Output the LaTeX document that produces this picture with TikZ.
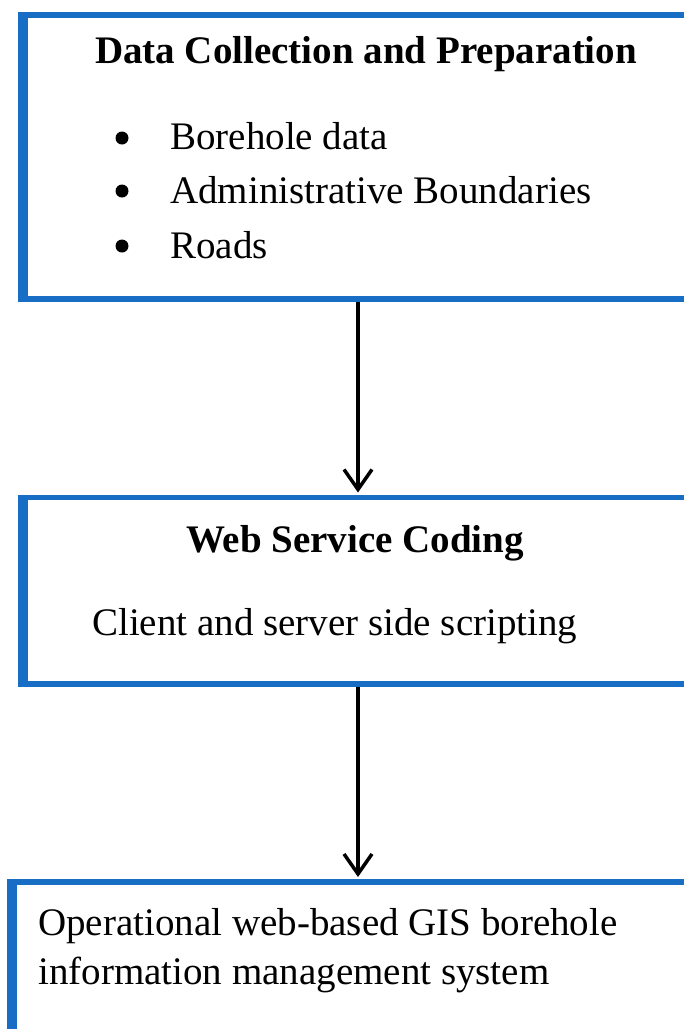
\documentclass[tikz,border=0pt]{standalone}
\usepackage{fontspec}
\setmainfont{Liberation Serif}
\usetikzlibrary{arrows.meta}
\definecolor{boxblue}{RGB}{24,110,196}
\tikzset{
  flowbox/.style={draw=boxblue, line width=5.5pt, fill=none, inner sep=0pt, anchor=north west},
  leftedge/.style={draw=boxblue, line width=8pt},
  conn/.style={draw=black, line width=3.5pt, -{Straight Barb[length=20pt,width=28pt,line width=3.5pt]}, shorten >=2pt},
  txt/.style={inner sep=0pt, font=\fontsize{39}{47}\selectfont},
  ttl/.style={txt, font=\fontsize{39}{47}\selectfont\bfseries},
  bul/.style={circle, fill=black, inner sep=0pt, minimum size=13pt},
}
\begin{document}
\begin{tikzpicture}[x=1pt,y=-1pt]
\useasboundingbox (0,0) rectangle (684,1029);
\clip (0,0) rectangle (684,1029);
\fill[white] (0,0) rectangle (684,1029);
% boxes
\node[flowbox, minimum width=720pt, minimum height=284pt] (b1) at (22,12) {};
\node[flowbox, minimum width=720pt, minimum height=186.5pt] (b2) at (22,494.5) {};
\node[flowbox, minimum width=720pt, minimum height=200pt] (b3) at (11,879) {};
\draw[leftedge] (b1.north west) -- (b1.south west);
\draw[leftedge] (b2.north west) -- (b2.south west);
\draw[leftedge] (b3.north west) -- (b3.south west);
% arrows
\coordinate (ax) at (358,0);
\draw[conn] (b1.south -| ax) -- (b2.north -| ax);
\draw[conn] (b2.south -| ax) -- (b3.north -| ax);
% box 1 text
\node[ttl, anchor=base] (t1) at (366,63) {Data Collection and Preparation};
\node[bul] (d1) at (122,138) {};
\node[bul] (d2) at (122,191) {};
\node[bul] (d3) at (122,246) {};
\node[txt, anchor=base west] (i1) at (170,149) {Borehole data};
\node[txt, anchor=base west] (i2) at (170,203) {Administrative Boundaries};
\node[txt, anchor=base west] (i3) at (170,258) {Roads};
% box 2 text
\node[ttl, anchor=base] (t2) at (355,552) {Web Service Coding};
\node[txt, anchor=base west] (c2) at (92,635) {Client and server side scripting};
% box 3 text
\node[txt, anchor=base west] (o1) at (38,935) {Operational web-based GIS borehole};
\node[txt, anchor=base west] (o2) at (38,984) {information management system};
\end{tikzpicture}
\end{document}
